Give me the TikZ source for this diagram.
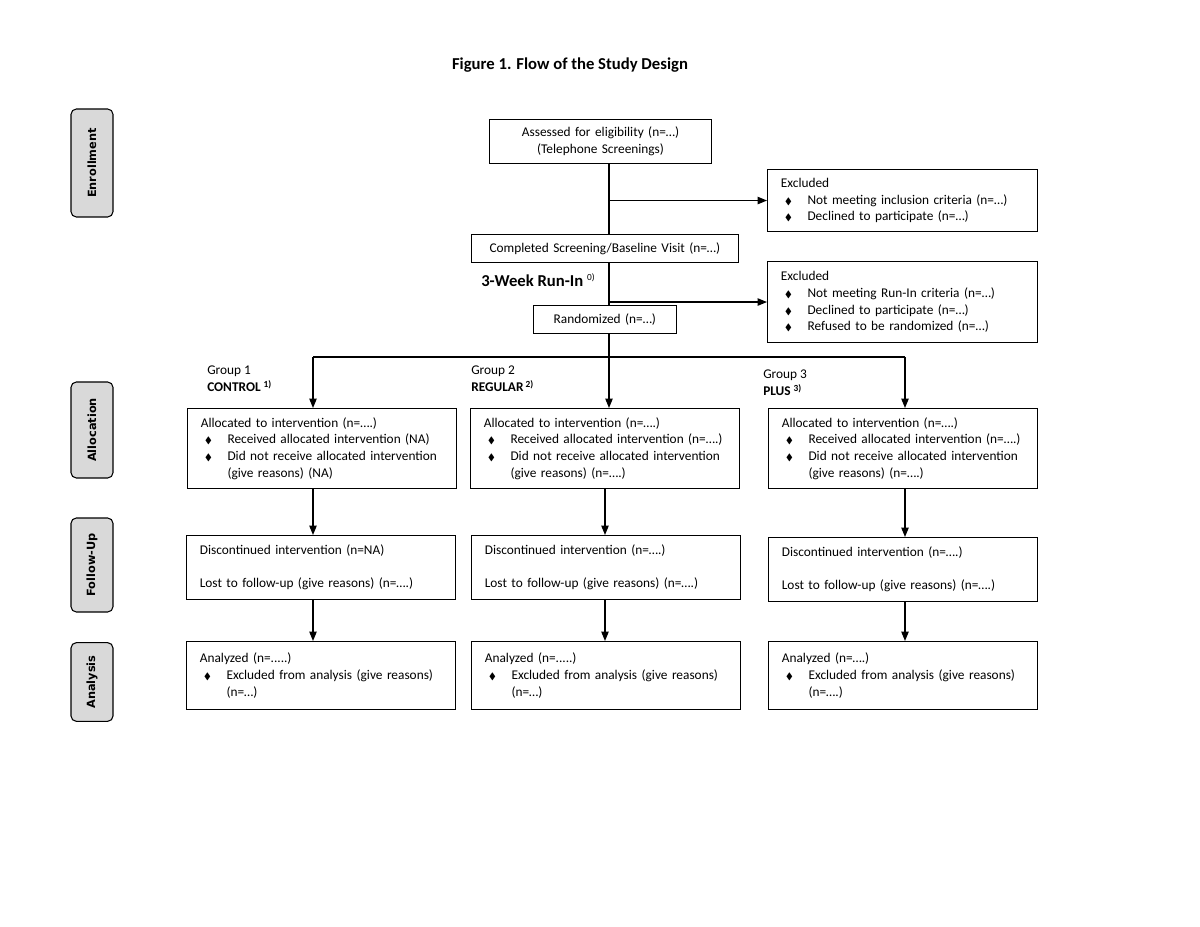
\documentclass[tikz,border=0pt]{standalone}
\usepackage{amssymb}
\usepackage{fontspec}
\setmainfont{Carlito}
\newfontfamily\sidefont{DejaVu Sans}
\usetikzlibrary{arrows.meta}
\newcommand\itm[1]{\par\hangindent=20pt\hangafter=0\noindent\llap{\makebox[17pt][l]{\scriptsize$\blacklozenge$}}#1\par}
\tikzset{
  box/.style={draw, line width=.8pt, anchor=north west, inner xsep=10pt, inner ysep=2pt,
    align=left, font=\fontsize{10}{12.5}\selectfont},
  cbox/.style={box, align=center},
  gbox/.style={box, text width=181.5pt, minimum height=#1},
  phase/.style={draw, line width=.8pt, rounded corners=4pt, fill=gray!30, rotate=90,
    minimum height=31.5pt, minimum width=#1, font=\sidefont\bfseries\fontsize{8.5}{10}\selectfont},
  grplabel/.style={anchor=north west, align=left, inner sep=0pt, font=\fontsize{10}{12.75}\selectfont},
  link/.style={line width=.9pt},
  arr/.style={link, -{Triangle[length=7pt,width=5.5pt]}}
}
\begin{document}
\begin{tikzpicture}[x=0.75pt, y=-0.75pt]
  \useasboundingbox (0,0) rectangle (1200,927);
  \node[font=\bfseries\fontsize{12.5}{14}\selectfont] (ttl) at (570,65) {Figure 1. Flow of the Study Design};

  \node[phase=81pt] (en) at (92,163) {Enrollment};
  \node[phase=72pt] (alc) at (92,430) {Allocation};
  \node[phase=70.5pt] (fol) at (92,565) {Follow-Up};
  \node[phase=59pt] (ana) at (92,682) {Analysis};

  \node[cbox, text width=146.5pt, minimum height=33pt] (as) at (489,119)
    {Assessed for eligibility (n=…)\\(Telephone Screenings)};
  \node[cbox, text width=180pt, minimum height=21pt] (cs) at (471,234)
    {Completed Screening/Baseline Visit (n=…)};
  \node[cbox, text width=87pt, minimum height=21pt] (rd) at (533,305) {Randomized (n=…)};
  \node[anchor=west, inner sep=0pt, font=\bfseries\fontsize{12.5}{14}\selectfont] (ri) at (481,280)
    {3-Week Run-In \textsuperscript{\mdseries\scriptsize 0)}};

  \node[box, text width=182.5pt, minimum height=46.5pt] (ex1) at (767,169)
    {Excluded
     \itm{Not meeting inclusion criteria (n=…)}
     \itm{Declined to participate (n=…)}};
  \node[box, text width=182.5pt, minimum height=60.75pt] (ex2) at (767,261)
    {Excluded
     \itm{Not meeting Run-In criteria (n=…)}
     \itm{Declined to participate (n=…)}
     \itm{Refused to be randomized (n=…)}};

  \node[grplabel] (g1) at (207,366) {Group 1\\\textbf{CONTROL} \textsuperscript{\bfseries\scriptsize 1)}};
  \node[grplabel] (g2) at (471,366) {Group 2\\\textbf{REGULAR}\,\textsuperscript{\bfseries\scriptsize 2)}};
  \node[grplabel] (g3) at (763,370) {Group 3\\\textbf{PLUS} \textsuperscript{\bfseries\scriptsize 3)}};

  \node[gbox=60pt] (al1) at (187,408)
    {Allocated to intervention (n=….)
     \itm{Received allocated intervention (NA)}
     \itm{Did not receive allocated intervention\newline (give reasons) (NA)}};
  \node[gbox=60pt] (al2) at (470,408)
    {Allocated to intervention (n=….)
     \itm{Received allocated intervention (n=….)}
     \itm{Did not receive allocated intervention\newline (give reasons) (n=….)}};
  \node[gbox=60pt] (al3) at (768,408)
    {Allocated to intervention (n=….)
     \itm{Received allocated intervention (n=….)}
     \itm{Did not receive allocated intervention\newline (give reasons) (n=….)}};

  \node[gbox=48pt] (fu1) at (186,535)
    {Discontinued intervention (n=NA)\\[12.5pt]Lost to follow-up (give reasons) (n=….)};
  \node[gbox=48pt] (fu2) at (471,535)
    {Discontinued intervention (n=….)\\[12.5pt]Lost to follow-up (give reasons) (n=….)};
  \node[gbox=48pt] (fu3) at (768,537)
    {Discontinued intervention (n=….)\\[12.5pt]Lost to follow-up (give reasons) (n=….)};

  \node[gbox=51pt] (an1) at (186,641)
    {Analyzed (n=.....)
     \itm{Excluded from analysis (give reasons)\newline (n=…)}};
  \node[gbox=51pt] (an2) at (471,641)
    {Analyzed (n=.....)
     \itm{Excluded from analysis (give reasons)\newline (n=…)}};
  \node[gbox=51pt] (an3) at (768,641)
    {Analyzed (n=….)
     \itm{Excluded from analysis (give reasons)\newline (n=….)}};

  \coordinate (sp) at (609,0);
  \coordinate (c1) at (313,0);
  \coordinate (c2) at (605,0);
  \coordinate (c3) at (905,0);
  \coordinate (br) at (0,357);

  \draw[link] (as.south -| sp) -- (cs.north -| sp);
  \draw[arr] (ex1.west -| sp) -- (ex1.west);
  \draw[link] (cs.south -| sp) -- (rd.north -| sp);
  \draw[arr] (ex2.west -| sp) -- (ex2.west);
  \draw[link] (rd.south -| sp) -- (sp |- br);
  \draw[link] (br -| c1) -- (br -| c3);
  \foreach \i/\c in {1/c1,2/sp,3/c3}
    \draw[arr] (br -| \c) -- (al\i.north -| \c);
  \foreach \i/\c in {1/c1,2/c2,3/c3}{
    \draw[arr] (al\i.south -| \c) -- (fu\i.north -| \c);
    \draw[arr] (fu\i.south -| \c) -- (an\i.north -| \c);
  }
\end{tikzpicture}
\end{document}
